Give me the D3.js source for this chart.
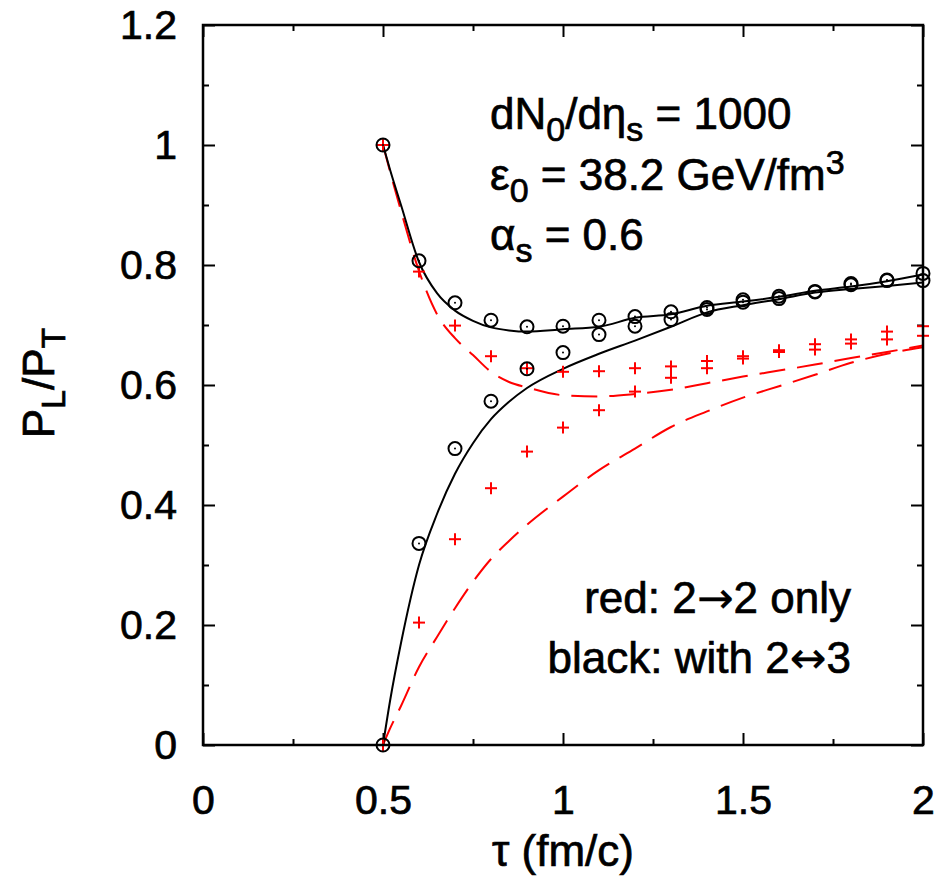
<!DOCTYPE html>
<html>
<head>
<meta charset="utf-8">
<script src="https://cdn.jsdelivr.net/npm/d3@7"></script>
<style>
  html, body { margin: 0; padding: 0; background: #fff; }
  svg { display: block; }
  text { font-family: "Liberation Sans", Arial, Helvetica, sans-serif; fill: #000; stroke: #000; stroke-width: 0.7px; }
  .arrow { font-family: "DejaVu Sans", sans-serif; stroke-width: 0.2px; }
</style>
</head>
<body>
<svg id="chart" width="944" height="878"></svg>
<script>
// ---------------- data ----------------
const xTicks = [0, 0.5, 1, 1.5, 2];
const xTickLabels = ["0", "0.5", "1", "1.5", "2"];
const xMinorTicks = [0.25, 0.75, 1.25, 1.75];
const yTicks = [0, 0.2, 0.4, 0.6, 0.8, 1, 1.2];
const yTickLabels = ["0", "0.2", "0.4", "0.6", "0.8", "1", "1.2"];
const yMinorTicks = [0.1, 0.3, 0.5, 0.7, 0.9, 1.1];

// curves
const lineTau = [0.5, 0.52, 0.55, 0.6, 0.65, 0.7, 0.75, 0.8, 0.85, 0.9, 1.0, 1.1, 1.2, 1.3, 1.4, 1.5, 1.6, 1.7, 1.8, 1.9, 2.0];
const blackLineUpper = [1.0, 0.958, 0.90, 0.805, 0.753, 0.724, 0.707, 0.696, 0.691, 0.689, 0.693, 0.697, 0.712, 0.718, 0.732, 0.739, 0.747, 0.757, 0.764, 0.773, 0.784];
const blackLineLower = [0.0, 0.075, 0.17, 0.30, 0.385, 0.452, 0.503, 0.543, 0.572, 0.595, 0.627, 0.652, 0.674, 0.697, 0.721, 0.733, 0.743, 0.754, 0.760, 0.765, 0.771];
const redLineUpper = [1.0, 0.955, 0.89, 0.79, 0.718, 0.678, 0.65, 0.622, 0.605, 0.596, 0.583, 0.581, 0.585, 0.592, 0.603, 0.614, 0.624, 0.634, 0.645, 0.655, 0.666];
const redLineLower = [0.0, 0.028, 0.065, 0.13, 0.18, 0.228, 0.272, 0.31, 0.34, 0.367, 0.414, 0.458, 0.494, 0.53, 0.556, 0.579, 0.598, 0.617, 0.637, 0.652, 0.663];

// simulation points
const markerTau = [0.5, 0.6, 0.7, 0.8, 0.9, 1.0, 1.1, 1.2, 1.3, 1.4, 1.5, 1.6, 1.7, 1.8, 1.9, 2.0];
const circlesUpper = [1.0, 0.807, 0.737, 0.708, 0.697, 0.698, 0.708, 0.714, 0.722, 0.729, 0.742, 0.748, 0.756, 0.769, 0.775, 0.786];
const circlesLower = [0.0, 0.336, 0.494, 0.573, 0.627, 0.654, 0.684, 0.698, 0.709, 0.726, 0.738, 0.744, 0.755, 0.767, 0.774, 0.774];
const plusUpper = [1.0, 0.789, 0.699, 0.648, 0.628, 0.622, 0.623, 0.628, 0.631, 0.640, 0.648, 0.658, 0.668, 0.676, 0.689, 0.698];
const plusLower = [0.0, 0.204, 0.343, 0.428, 0.489, 0.529, 0.558, 0.589, 0.612, 0.628, 0.644, 0.655, 0.659, 0.669, 0.676, 0.682];

// ---------------- drawing ----------------
const svg = d3.select("#chart");
const pLeft = 203, pRight = 923, pTop = 25, pBottom = 745;
const x = d3.scaleLinear().domain([0, 2]).range([pLeft, pRight]);
const y = d3.scaleLinear().domain([0, 1.2]).range([pBottom, pTop]);
const FS = 41, FL = 44, SUB = 34;

function styleAxis(g) {
  g.select(".domain").remove();
  g.selectAll(".tick line").attr("stroke", "#000").attr("stroke-width", 2);
  g.selectAll(".tick text").style("font-size", FS + "px");
}

svg.append("g").attr("transform", `translate(0,${pBottom})`)
  .call(d3.axisBottom(x).tickValues(xTicks).tickSize(-12).tickPadding(40)
    .tickFormat((d, i) => xTickLabels[i])).call(styleAxis);
svg.append("g").attr("transform", `translate(0,${pBottom})`)
  .call(d3.axisBottom(x).tickValues(xMinorTicks).tickSize(-6).tickFormat("")).call(styleAxis);
svg.append("g").attr("transform", `translate(0,${pTop})`)
  .call(d3.axisTop(x).tickValues(xTicks).tickSize(-12).tickFormat("")).call(styleAxis);
svg.append("g").attr("transform", `translate(0,${pTop})`)
  .call(d3.axisTop(x).tickValues(xMinorTicks).tickSize(-6).tickFormat("")).call(styleAxis);
svg.append("g").attr("transform", `translate(${pLeft},0)`)
  .call(d3.axisLeft(y).tickValues(yTicks).tickSize(-12).tickPadding(26)
    .tickFormat((d, i) => yTickLabels[i])).call(styleAxis);
svg.append("g").attr("transform", `translate(${pLeft},0)`)
  .call(d3.axisLeft(y).tickValues(yMinorTicks).tickSize(-6).tickFormat("")).call(styleAxis);
svg.append("g").attr("transform", `translate(${pRight},0)`)
  .call(d3.axisRight(y).tickValues(yTicks).tickSize(-12).tickFormat("")).call(styleAxis);
svg.append("g").attr("transform", `translate(${pRight},0)`)
  .call(d3.axisRight(y).tickValues(yMinorTicks).tickSize(-6).tickFormat("")).call(styleAxis);

const line = d3.line().x(d => x(d[0])).y(d => y(d[1])).curve(d3.curveMonotoneX);
function curve(vals, color, dash) {
  svg.append("path")
    .datum(lineTau.map((t, i) => [t, vals[i]]))
    .attr("d", line)
    .attr("fill", "none")
    .attr("stroke", color)
    .attr("stroke-width", 2)
    .attr("stroke-dasharray", dash || null);
}
curve(redLineUpper, "#ff0000", "26,12");
curve(redLineLower, "#ff0000", "26,12");
curve(blackLineUpper, "#000");
curve(blackLineLower, "#000");

function pluses(vals) {
  const g = svg.append("g").attr("stroke", "#ff0000").attr("stroke-width", 2);
  markerTau.forEach((t, i) => {
    const px = x(t), py = y(vals[i]);
    g.append("line").attr("x1", px - 6).attr("x2", px + 6).attr("y1", py).attr("y2", py);
    g.append("line").attr("x1", px).attr("x2", px).attr("y1", py - 6).attr("y2", py + 6);
  });
}
function circles(vals) {
  const g = svg.append("g");
  markerTau.forEach((t, i) => {
    const px = x(t), py = y(vals[i]);
    g.append("circle").attr("cx", px).attr("cy", py).attr("r", 6.5)
      .attr("fill", "none").attr("stroke", "#000").attr("stroke-width", 2);
    g.append("circle").attr("cx", px).attr("cy", py).attr("r", 1).attr("fill", "#000");
  });
}
pluses(plusUpper);
pluses(plusLower);
circles(circlesUpper);
circles(circlesLower);

svg.append("rect").attr("x", pLeft).attr("y", pTop)
  .attr("width", pRight - pLeft).attr("height", pBottom - pTop)
  .attr("fill", "none").attr("stroke", "#000").attr("stroke-width", 2.5);

svg.append("text").attr("x", x(1)).attr("y", 866).attr("text-anchor", "middle")
  .style("font-size", FL + "px").text("τ (fm/c)");

const yl = svg.append("text").attr("transform", "translate(54,383) rotate(-90)")
  .attr("text-anchor", "middle").style("font-size", FL + "px");
yl.append("tspan").text("P");
yl.append("tspan").attr("dy", 11).style("font-size", SUB + "px").text("L");
yl.append("tspan").attr("dy", -11).text("/P");
yl.append("tspan").attr("dy", 11).style("font-size", SUB + "px").text("T");

const ax = 490;
const t1 = svg.append("text").attr("x", ax).attr("y", 129).style("font-size", FL + "px");
t1.append("tspan").text("dN");
t1.append("tspan").attr("dy", 12).style("font-size", SUB + "px").text("0");
t1.append("tspan").attr("dy", -12).text("/dη");
t1.append("tspan").attr("dy", 12).style("font-size", SUB + "px").text("s");
t1.append("tspan").attr("dy", -12).text(" = 1000");

const t2 = svg.append("text").attr("x", ax).attr("y", 190).style("font-size", FL + "px");
t2.append("tspan").text("ε");
t2.append("tspan").attr("dy", 12).style("font-size", SUB + "px").text("0");
t2.append("tspan").attr("dy", -12).text(" = 38.2 GeV/fm");
t2.append("tspan").attr("dy", -16).style("font-size", SUB + "px").text("3");

const t3 = svg.append("text").attr("x", ax).attr("y", 250).style("font-size", FL + "px");
t3.append("tspan").text("α");
t3.append("tspan").attr("dy", 12).style("font-size", SUB + "px").text("s");
t3.append("tspan").attr("dy", -12).text(" = 0.6");

const l1 = svg.append("text").attr("x", 851).attr("y", 613).attr("text-anchor", "end")
  .style("font-size", FL + "px");
l1.append("tspan").text("red: 2");
l1.append("tspan").attr("class", "arrow").text("→");
l1.append("tspan").text("2 only");
const l2 = svg.append("text").attr("x", 851).attr("y", 673).attr("text-anchor", "end")
  .style("font-size", FL + "px");
l2.append("tspan").text("black: with 2");
l2.append("tspan").attr("class", "arrow").text("↔");
l2.append("tspan").text("3");
</script>
</body>
</html>
